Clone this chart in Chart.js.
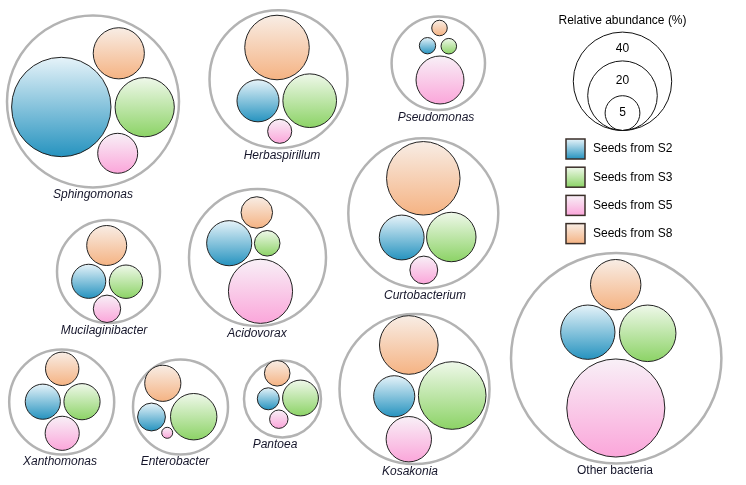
<!DOCTYPE html>
<html>
<head>
<meta charset="utf-8">
<script src="https://cdn.jsdelivr.net/npm/chart.js@4"></script>
<style>
  body { margin: 0; background: #fff; }
  #wrap { width: 746px; height: 485px; position: relative; }
</style>
</head>
<body>
<div id="wrap"><canvas id="chart"></canvas></div>
<script>
// 分類群の名前
const taxa = ['Sphingomonas', 'Herbaspirillum', 'Pseudomonas', 'Curtobacterium', 'Mucilaginibacter',
  'Acidovorax', 'Xanthomonas', 'Enterobacter', 'Pantoea', 'Kosakonia', 'Other bacteria'];

// 相対存在量 (%)
const seedsS2 = [40.8, 7.3, 1.1, 8.3, 4.8, 8.4, 5.1, 3.2, 2.0, 7.0, 12.2];
const seedsS3 = [14.5, 11.9, 1.0, 10.1, 4.6, 2.7, 5.4, 8.9, 5.3, 18.9, 13.2];
const seedsS5 = [6.6, 2.4, 9.5, 3.2, 3.1, 17.0, 4.8, 0.5, 1.4, 8.5, 39.7];
const seedsS8 = [10.8, 17.2, 1.0, 22.3, 6.6, 4.1, 4.6, 5.4, 2.7, 14.2, 10.5];

// バブルの配置 (パッキング結果)
const s2X = [61.3, 258, 427.5, 401.7, 88.7, 229.2, 42.8, 151.5, 268.3, 394.2, 587.8];
const s2Y = [107, 100.8, 45.7, 237.5, 281.3, 243.2, 401.7, 417, 398.8, 396.3, 332.2];
const s3X = [144.7, 309.7, 448.8, 451.3, 126, 267.2, 82, 193.7, 300.5, 452.2, 647.7];
const s3Y = [107.2, 100.7, 46.2, 237, 281.7, 243.3, 401.7, 416.7, 398, 395.5, 333.3];
const s5X = [117.7, 279.7, 440, 423.8, 107, 260.5, 62.2, 167.2, 278.8, 408.8, 615.8];
const s5Y = [153.3, 131.3, 80, 270, 308.8, 291.3, 433.3, 432.8, 419.2, 439.2, 408];
const s8X = [118.8, 277, 439.5, 423.3, 106.7, 256.8, 62.2, 162.8, 277.2, 408.8, 615.7];
const s8Y = [53.3, 47.5, 28, 178.3, 245.5, 212.5, 368.8, 383.3, 373.3, 345, 284.7];

// 外側の円
const ringX = [93, 278.5, 438.3, 423.3, 108.5, 257.5, 61.7, 180.5, 282.5, 414.5, 616.2];
const ringY = [101.5, 79.2, 63.3, 213.3, 271.5, 257.5, 402, 407, 399, 389, 358.3];
const ringR = [86, 69, 46.7, 75, 51.5, 68.5, 52.5, 47.5, 38.5, 75, 105.2];

// ラベルの横位置 (円の中心から少しずれているものがある)
const labelX = [93, 282, 436, 425, 104, 257, 60, 175, 275, 410, 615];

// 凡例
const legendValues = [40, 20, 5];
const seriesNames = ['Seeds from S2', 'Seeds from S3', 'Seeds from S5', 'Seeds from S8'];

// 面積が存在量に比例するように
const K = 7.78;
const radius = v => K * Math.sqrt(v);

const colors = {
  S2: ['#e6f3f9', '#2693bf'],
  S3: ['#eff8ea', '#8cd366'],
  S5: ['#f8f0f7', '#fba6da'],
  S8: ['#f8ede5', '#f5b383']
};

function gradFill(pair) {
  return function (c) {
    const chart = c.chart;
    const raw = c.raw;
    if (!raw || !chart.scales.y) return pair[1];
    const py = chart.scales.y.getPixelForValue(raw.y);
    if (!Number.isFinite(py) || !Number.isFinite(raw.r)) return pair[1];
    const g = chart.ctx.createLinearGradient(0, py - raw.r, 0, py + raw.r);
    g.addColorStop(0, pair[0]);
    g.addColorStop(1, pair[1]);
    return g;
  };
}

function points(xs, ys, vals) {
  return vals.map((v, i) => ({ x: xs[i], y: ys[i], r: radius(v) }));
}

const legendCx = 622.5;
const legendBase = 130.5;
const legendCircles = legendValues.map(v => ({ x: legendCx, y: legendBase - radius(v), r: radius(v) }));

// ラベルと凡例を描くプラグイン
const labelPlugin = {
  id: 'labels',
  afterDatasetsDraw(chart) {
    const ctx = chart.ctx;
    const sx = chart.scales.x, sy = chart.scales.y;
    ctx.save();
    ctx.fillStyle = '#15152a';
    ctx.textAlign = 'center';
    ctx.textBaseline = 'middle';
    taxa.forEach((t, i) => {
      ctx.font = (t === 'Other bacteria' ? '' : 'italic ') + '12px "Liberation Sans", Arial, sans-serif';
      ctx.fillText(t, sx.getPixelForValue(labelX[i]), sy.getPixelForValue(ringY[i] + ringR[i] + 7.5));
    });

    // 凡例タイトルと円の数値
    ctx.fillStyle = '#000';
    ctx.font = '12px "Liberation Sans", Arial, sans-serif';
    ctx.fillText('Relative abundance (%)', sx.getPixelForValue(legendCx), sy.getPixelForValue(21));
    legendCircles.forEach((c, i) => {
      let ly;
      if (i < legendCircles.length - 1) {
        const top = c.y - c.r;
        const nextTop = legendCircles[i + 1].y - legendCircles[i + 1].r;
        ly = (top + nextTop) / 2 + 2.5;
      } else {
        ly = c.y;
      }
      ctx.fillText(String(legendValues[i]), sx.getPixelForValue(c.x), sy.getPixelForValue(ly));
    });

    // 系列の凡例
    const keys = ['S2', 'S3', 'S5', 'S8'];
    ctx.textAlign = 'left';
    keys.forEach((k, i) => {
      const bx = sx.getPixelForValue(566);
      const by = sy.getPixelForValue(139 + i * 28.2);
      const g = ctx.createLinearGradient(0, by, 0, by + 20);
      g.addColorStop(0, colors[k][0]);
      g.addColorStop(1, colors[k][1]);
      ctx.fillStyle = g;
      ctx.fillRect(bx, by, 19, 20);
      ctx.strokeStyle = '#3a2e28';
      ctx.lineWidth = 1.5;
      ctx.strokeRect(bx, by, 19, 20);
      ctx.fillStyle = '#000';
      ctx.fillText(seriesNames[i], bx + 27, by + 10);
    });
    ctx.restore();
  }
};

const ctx = document.getElementById('chart');

const data = {
  datasets: [
    {
      label: 'S2', data: points(s2X, s2Y, seedsS2), order: 1,
      backgroundColor: gradFill(colors.S2), borderColor: '#222', borderWidth: 1
    },
    {
      label: 'S3', data: points(s3X, s3Y, seedsS3), order: 1,
      backgroundColor: gradFill(colors.S3), borderColor: '#222', borderWidth: 1
    },
    {
      label: 'S5', data: points(s5X, s5Y, seedsS5), order: 1,
      backgroundColor: gradFill(colors.S5), borderColor: '#222', borderWidth: 1
    },
    {
      label: 'S8', data: points(s8X, s8Y, seedsS8), order: 1,
      backgroundColor: gradFill(colors.S8), borderColor: '#222', borderWidth: 1
    },
    {
      label: 'ring', data: ringX.map((x, i) => ({ x: x, y: ringY[i], r: ringR[i] })), order: 3,
      backgroundColor: '#fff', borderColor: '#b3b3b3', borderWidth: 2.5
    },
    {
      label: 'legend', data: legendCircles, order: 2,
      backgroundColor: 'rgba(0,0,0,0)', borderColor: '#111', borderWidth: 1
    }
  ]
};

new Chart(ctx, {
  type: 'bubble',
  data: data,
  options: {
    responsive: true,
    maintainAspectRatio: false,
    animation: false,
    events: [],
    clip: false,
    layout: { padding: 0, autoPadding: false },
    scales: {
      x: { type: 'linear', min: 0, max: 746, display: false },
      y: { type: 'linear', min: 0, max: 485, reverse: true, display: false }
    },
    plugins: {
      legend: { display: false },
      tooltip: { enabled: false }
    }
  },
  plugins: [labelPlugin]
});
</script>
</body>
</html>
